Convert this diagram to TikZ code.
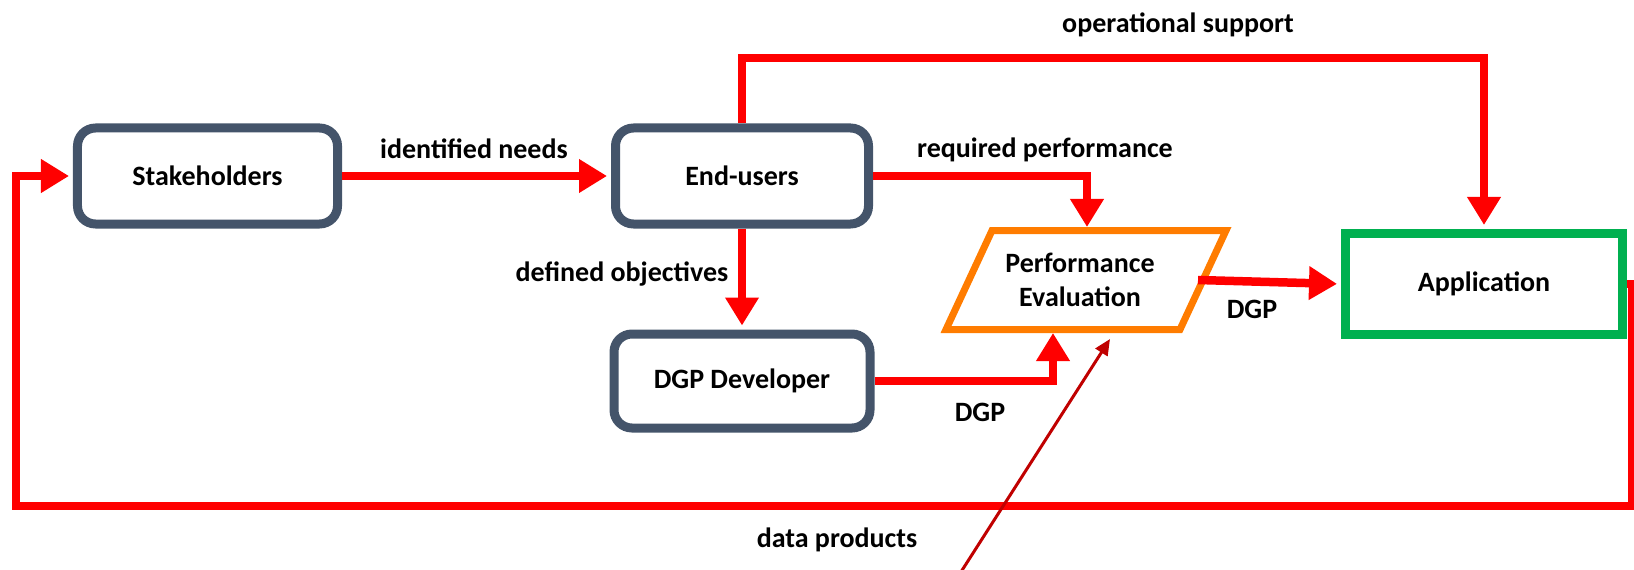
\documentclass[tikz,border=0pt]{standalone}
\usepackage{fontspec}
\setmainfont{Carlito}
\usetikzlibrary{arrows.meta}
\definecolor{boxblue}{HTML}{44546A}
\definecolor{evorange}{HTML}{FF7C00}
\definecolor{appgreen}{HTML}{00B050}
\definecolor{flowred}{HTML}{FF0000}
\definecolor{darkred}{HTML}{C00000}
\begin{document}
\begin{tikzpicture}[x=1bp,y=-1bp,
  every node/.style={font=\bfseries\fontsize{28bp}{34bp}\selectfont},
  actor/.style={draw=boxblue, line width=9bp, rounded corners=18bp, fill=white, align=center, inner sep=0pt},
  appbox/.style={draw=appgreen, line width=9bp, fill=white, align=center, inner sep=0pt},
  flow/.style={draw=flowred, line width=8.5bp, -{Triangle[length=28bp,width=32bp]}},
  tonode/.style={shorten >=4bp},
  thinflow/.style={draw=darkred, line width=3bp, -{Triangle[length=16bp,width=14bp]}},
  lbl/.style={inner sep=0pt}
]
\useasboundingbox (0,0) rectangle (1634,570);

% nodes
\node[actor, minimum width=260bp, minimum height=96bp] (stake) at (207.5,176) {Stakeholders};
\node[actor, minimum width=253bp, minimum height=96bp] (end) at (742,176) {End-users};
\node[actor, minimum width=256bp, minimum height=94bp] (dev) at (742,381) {DGP Developer};
\node[appbox, minimum width=277bp, minimum height=101bp] (app) at (1484,284) {Application};

% performance evaluation parallelogram
\draw[evorange, line width=7bp, line join=miter]
  (992,230.5) coordinate (pTL) -- (1226,230.5) coordinate (pTR)
  -- (1180,329.5) coordinate (pBR) -- (946,329.5) coordinate (pBL) -- cycle;
\node[align=center, lbl] (perf) at (1080,280) {Performance\\Evaluation};

% helper coordinates
\coordinate (perfTop) at (1087,227);
\coordinate (perfBot) at (1053,333);
\coordinate (perfR) at (1198,280);
\coordinate (perfIn) at (1110,339);
\coordinate (dpStart) at (959,575);
\coordinate (opY) at (0,58);
\coordinate (loopSE) at (1632,506);
\coordinate (loopSW) at (16,506);

% connectors
\draw[flow, tonode] (stake.east) -- (end.west);
\draw[flow, tonode] (end.north) -- (end.north |- opY) -| (app.north);
\draw[flow] (end.east) -| (perfTop);
\draw[flow, tonode] (end.south) -- (dev.north);
\draw[flow] (dev.east) -| (perfBot);
\draw[flow, tonode] (perfR) -- (app.west);
\draw[flow, tonode] (app.east) -| (loopSE) -- (loopSW) |- (stake.west);
\draw[thinflow] (dpStart) -- (perfIn);

% labels
\node[lbl] (lneeds) at (474,149) {identified needs};
\node[lbl] (lreq) at (1045,150) {required performance};
\node[lbl] (lop) at (1178,25) {operational support};
\node[lbl] (lobj) at (622,274) {defined objectives};
\node[lbl] (ldgp1) at (980,412) {DGP};
\node[lbl] (ldgp2) at (1252,309) {DGP};
\node[lbl] (ldata) at (837,540) {data products};
\end{tikzpicture}
\end{document}
